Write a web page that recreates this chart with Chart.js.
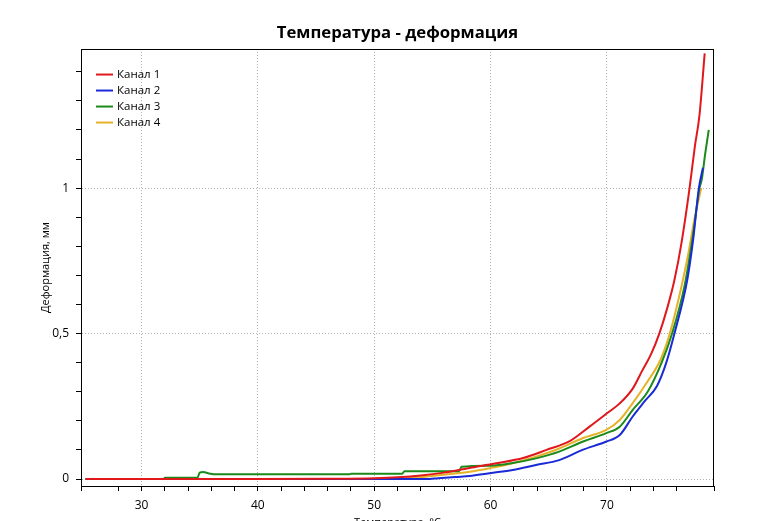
<!DOCTYPE html>
<html>
<head>
<meta charset="utf-8">
<title>Температура - деформация</title>
<script src="https://cdn.jsdelivr.net/npm/chart.js@4.4.1/dist/chart.umd.min.js"></script>
<style>
  html, body { margin: 0; padding: 0; background: #fff; }
  #wrap { width: 758px; height: 521px; }
</style>
</head>
<body>
<div id="wrap"><canvas id="myChart" width="758" height="521"></canvas></div>
<script>
// channel names and colours
var channels = ["Канал 1", "Канал 2", "Канал 3", "Канал 4"];
var colors = ["#e0181c", "#1a2bd6", "#1b8a1b", "#e6b228"];

// Канал 1
var temp1 = [25.2, 30, 40, 46, 50, 52, 54, 56, 58.2, 60.5, 62.8, 64.8, 66.8, 68.5, 70.0, 71.1, 72.2, 73.0, 73.8, 74.5, 75.2, 75.8, 76.4, 77.1, 77.55, 77.95, 78.4];
var def1 = [0, 0, 0, 0.001, 0.003, 0.006, 0.012, 0.022, 0.038, 0.054, 0.072, 0.100, 0.130, 0.180, 0.226, 0.26, 0.31, 0.37, 0.43, 0.50, 0.59, 0.684, 0.81, 1.0, 1.142, 1.25, 1.463];

// Канал 2
var temp2 = [25.2, 40, 54.5, 55.5, 57, 58.2, 59.9, 61.9, 63.9, 65.9, 67.9, 69.9, 71.1, 72.2, 73.3, 74.3, 75.1, 75.8, 76.9, 77.4, 77.9, 78.25];
var def2 = [0, 0, 0, 0.003, 0.007, 0.01, 0.02, 0.031, 0.048, 0.065, 0.10, 0.128, 0.151, 0.214, 0.27, 0.32, 0.40, 0.50, 0.684, 0.82, 1.0, 1.07];

// Канал 3
var temp3 = [25.2, 31.9, 32.0, 34.8, 35.0, 35.3, 35.8, 36.5, 47.9, 48.0, 52.4, 52.6, 57.3, 57.5, 60.0, 61.9, 63.9, 65.9, 67.9, 69.9, 71.1, 72.2, 73.5, 74.7, 75.6, 76.7, 77.4, 77.95, 78.15, 78.45, 78.75];
var def3 = [0, 0, 0.004, 0.004, 0.022, 0.024, 0.019, 0.016, 0.016, 0.018, 0.018, 0.027, 0.027, 0.042, 0.046, 0.055, 0.071, 0.094, 0.128, 0.157, 0.18, 0.237, 0.30, 0.40, 0.50, 0.67, 0.84, 1.0, 1.03, 1.12, 1.20];

// Канал 4
var temp4 = [25.2, 40, 50, 52, 54, 56, 58.2, 59.9, 61.9, 63.9, 65.9, 67.9, 69.9, 71.1, 72.2, 73.4, 74.6, 75.4, 76.4, 77.0, 77.5, 78.1];
var def4 = [0, 0, 0, 0.001, 0.006, 0.015, 0.025, 0.037, 0.054, 0.077, 0.105, 0.14, 0.168, 0.203, 0.26, 0.33, 0.41, 0.50, 0.661, 0.776, 0.89, 1.0];

var temps = [temp1, temp2, temp3, temp4];
var defs = [def1, def2, def3, def4];

var FONT = "'Open Sans', 'Noto Sans', sans-serif";

function toPoints(tx, dy) {
  return tx.map(function (t, i) { return {x: t, y: dy[i]}; });
}

var datasets = channels.map(function (name, k) {
  return {
    label: name,
    data: toPoints(temps[k], defs[k]),
    borderColor: colors[k],
    backgroundColor: colors[k],
    borderWidth: 2,
    pointRadius: 0,
    cubicInterpolationMode: "monotone",
    fill: false
  };
});

function near(v, t) { return Math.abs(v - t) < 1e-6; }

// frame around the plot area
var frame = {
  id: "frame",
  afterDraw: function (chart) {
    var a = chart.chartArea, ctx = chart.ctx;
    ctx.save();
    ctx.strokeStyle = "#000";
    ctx.lineWidth = 1;
    ctx.strokeRect(Math.round(a.left) + 0.5, Math.round(a.top) + 0.5,
      Math.round(a.right - a.left) - 1, Math.round(a.bottom - a.top));
    ctx.restore();
  }
};

// legend drawn inside the plot, top left
var innerLegend = {
  id: "innerLegend",
  afterDraw: function (chart) {
    var a = chart.chartArea, ctx = chart.ctx;
    ctx.save();
    ctx.font = "11.5px " + FONT;
    ctx.textBaseline = "middle";
    chart.data.datasets.forEach(function (ds, i) {
      var y = a.top + 25.5 + i * 16;
      ctx.strokeStyle = ds.borderColor;
      ctx.lineWidth = 2;
      ctx.beginPath();
      ctx.moveTo(a.left + 15, y);
      ctx.lineTo(a.left + 32, y);
      ctx.stroke();
      ctx.fillStyle = "#000";
      ctx.fillText(ds.label, a.left + 36, y);
    });
    ctx.restore();
  }
};

new Chart("myChart", {
  type: "line",
  data: { datasets: datasets },
  plugins: [frame, innerLegend],
  options: {
    responsive: false,
    animation: false,
    layout: { padding: { left: 0, right: 44, top: 0, bottom: 0 } },
    plugins: {
      legend: { display: false },
      tooltip: { enabled: false },
      title: {
        display: true,
        fullSize: false,
        text: "Температура - деформация",
        color: "#000",
        font: { family: FONT, size: 16.7, weight: "bold" },
        padding: { top: 23.5, bottom: 5.5 }
      }
    },
    scales: {
      x: {
        type: "linear",
        min: 24.8,
        max: 79.2,
        afterFit: function (s) { s.height = 35; },
        border: { display: true, color: "#000", width: 1, dash: [1, 2] },
        grid: {
          color: function (c) { return c.tick && c.tick.value % 10 === 0 ? "#b0b0b0" : "transparent"; },
          tickColor: "#000",
          tickLength: 5,
          lineWidth: 1
        },
        ticks: {
          stepSize: 2,
          maxTicksLimit: 1000,
          autoSkip: false,
          maxRotation: 0,
          padding: 7,
          color: "#000",
          font: { family: FONT, size: 12 },
          callback: function (v) { return v % 10 === 0 ? String(v) : ""; }
        },
        title: {
          display: true,
          text: "Температура, °С",
          color: "#000",
          font: { family: FONT, size: 11 },
          padding: { top: 0, bottom: -8 }
        }
      },
      y: {
        min: -0.024,
        max: 1.478,
        afterFit: function (s) { s.width = 81; },
        border: { display: true, color: "#000", width: 1, dash: [1, 2] },
        grid: {
          color: function (c) {
            var v = c.tick ? c.tick.value : NaN;
            return (near(v, 0) || near(v, 0.5) || near(v, 1)) ? "#b0b0b0" : "transparent";
          },
          tickColor: "#000",
          tickLength: 5,
          lineWidth: 1
        },
        ticks: {
          stepSize: 0.1,
          maxTicksLimit: 1000,
          autoSkip: false,
          includeBounds: false,
          padding: 7,
          color: "#000",
          font: { family: FONT, size: 12 },
          callback: function (v) {
            if (near(v, 0)) return "0";
            if (near(v, 0.5)) return "0,5";
            if (near(v, 1)) return "1";
            return "";
          }
        },
        title: {
          display: true,
          text: "Деформация, мм",
          color: "#000",
          font: { family: FONT, size: 11 },
          padding: { top: 39, bottom: 0 }
        }
      }
    }
  }
});
</script>
</body>
</html>
